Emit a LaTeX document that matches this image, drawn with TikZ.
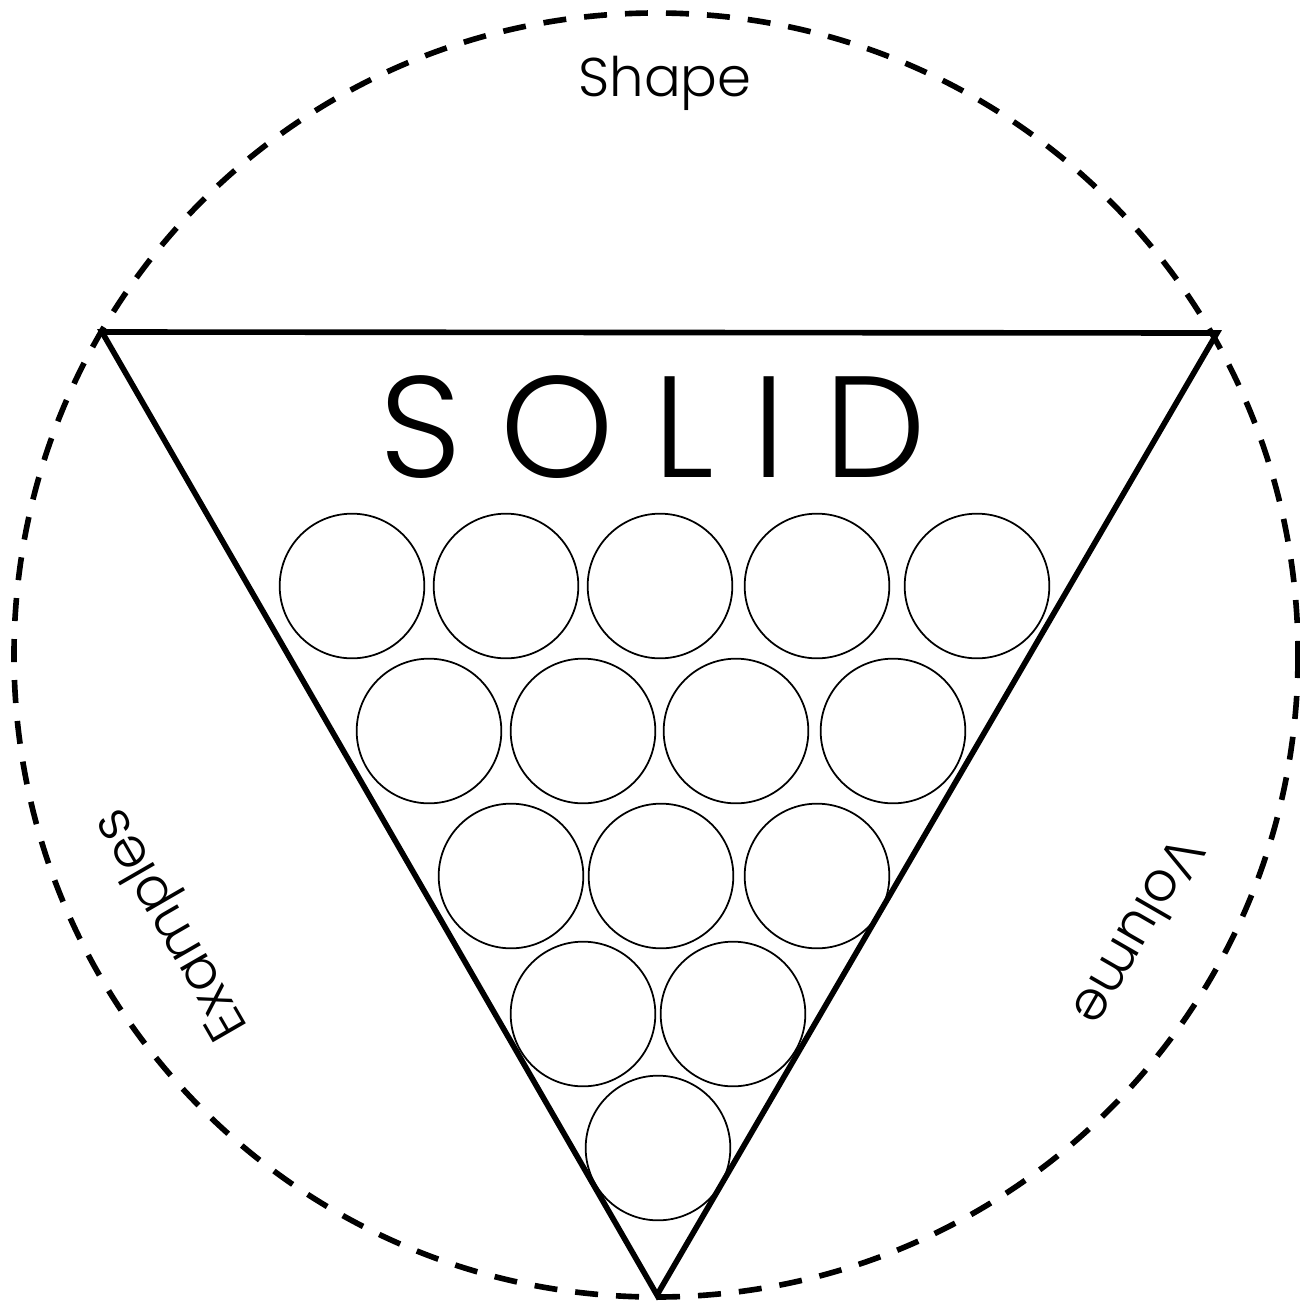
\documentclass[tikz,border=0pt]{standalone}
\usepackage{fontspec}
\setmainfont{Poppins Light}
\begin{document}
\begin{tikzpicture}[x=0.01cm, y=-0.01cm,
    ball/.style={circle, draw, line width=0.5pt, minimum size=1.446cm, inner sep=0pt},
    rim/.style={line width=1.6pt, dash pattern=on 2.3mm off 1.8mm},
    sidetext/.style={font=\fontsize{15.5}{18}\selectfont, inner sep=0pt}]
  \useasboundingbox (0,0) rectangle (1300,1303);
  % outer ring
  \draw [rim] (656,655) circle (642);
  % triangle
  \coordinate (tl) at (102,332);
  \coordinate (tr) at (1217,333);
  \coordinate (bt) at (657,1295);
  \draw [line width=1.6pt, line join=miter] (tl) -- (tr) -- (bt) -- cycle;
  \node [inner sep=0pt, anchor=base, font=\fontsize{41}{44}\selectfont] (solid) at (653,477)
    {S\hskip 11pt O\hskip 11pt L\hskip 11pt I\hskip 11pt D};
  % particles
  \foreach \cx/\cy [count=\i] in {352/586, 506/586, 660/586, 817/586, 977/586,
      429/731, 583/731, 736/731, 893/731,
      511/876, 661/876, 817/876,
      583/1014, 733/1014,
      658/1148}
    \node [ball] (p\i) at (\cx,\cy) {};
  % labels on the ring
  \node [sidetext, anchor=base] (shape) at (665,97) {Shape};
  \node [sidetext, rotate=120] (examples) at (173,923) {Examples};
  \node [sidetext, rotate=-120] (volume) at (1140,932) {Volume};
\end{tikzpicture}
\end{document}
